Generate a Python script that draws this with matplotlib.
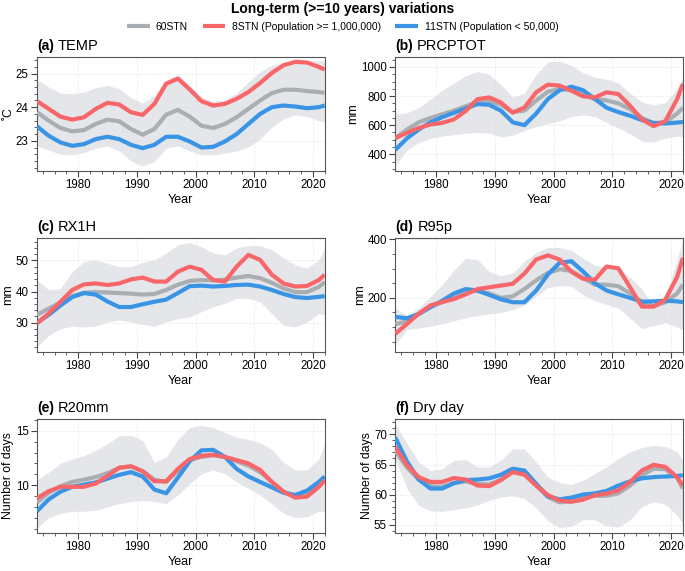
import matplotlib
matplotlib.use("Agg")
import matplotlib.pyplot as plt
from matplotlib.ticker import MultipleLocator

plt.rcParams['font.family'] = ['Liberation Sans', 'DejaVu Sans']

YEARS = [1973, 1975, 1977, 1979, 1981, 1983, 1985, 1987, 1989, 1991, 1993, 1995, 1997,
         1999, 2001, 2003, 2005, 2007, 2009, 2011, 2013, 2015, 2017, 2019, 2021, 2022]

# (a) TEMP
temp_all = [23.85, 23.6, 23.38, 23.28, 23.32, 23.5, 23.63, 23.58, 23.35, 23.18, 23.35, 23.78, 23.92,
            23.72, 23.45, 23.38, 23.5, 23.7, 23.95, 24.2, 24.42, 24.52, 24.52, 24.48, 24.45, 24.43]
temp_big = [24.18, 23.95, 23.72, 23.63, 23.7, 23.95, 24.13, 24.08, 23.85, 23.77, 24.1, 24.7, 24.85,
            24.53, 24.18, 24.05, 24.1, 24.25, 24.45, 24.72, 25.02, 25.25, 25.35, 25.33, 25.2, 25.12]
temp_small = [23.43, 23.15, 22.95, 22.85, 22.9, 23.05, 23.12, 23.05, 22.88, 22.78, 22.88, 23.12, 23.12,
              22.98, 22.8, 22.82, 22.98, 23.2, 23.5, 23.8, 24.0, 24.05, 24.02, 23.97, 24.0, 24.05]
temp_hi = [24.82, 24.6, 24.42, 24.4, 24.45, 24.58, 24.65, 24.55, 24.28, 24.12, 24.35, 24.8, 24.98,
           24.65, 24.3, 24.18, 24.22, 24.42, 24.75, 25.05, 25.25, 25.33, 25.35, 25.38, 25.38, 25.38]
temp_lo = [22.85, 22.72, 22.6, 22.58, 22.65, 22.78, 22.85, 22.7, 22.4, 22.25, 22.38, 22.78, 22.85,
           22.7, 22.58, 22.58, 22.63, 22.7, 22.82, 23.05, 23.4, 23.65, 23.78, 23.72, 23.6, 23.55]

# (b) PRCPTOT
prcp_all = [510, 570, 620, 650, 675, 700, 730, 760, 765, 740, 690, 700, 770,
            830, 850, 840, 810, 780, 770, 750, 710, 650, 615, 620, 680, 720]
prcp_big = [512, 547, 581, 605, 616, 640, 698, 779, 791, 756, 686, 721, 826,
            879, 872, 837, 798, 791, 826, 814, 733, 640, 593, 628, 779, 884]
prcp_small = [430, 510, 570, 620, 655, 685, 715, 745, 740, 700, 620, 600, 680,
              780, 840, 865, 840, 780, 720, 690, 665, 635, 615, 612, 618, 622]
prcp_hi = [675, 685, 720, 780, 840, 890, 940, 970, 950, 880, 790, 820, 950,
           1035, 1040, 1010, 960, 930, 915, 890, 820, 760, 740, 755, 850, 930]
prcp_lo = [325, 430, 480, 510, 525, 535, 545, 550, 545, 520, 530, 565, 590,
           610, 630, 660, 670, 660, 620, 580, 540, 490, 485, 510, 525, 520]

# (c) RX1H
rx1h_all = [32.5, 34.5, 36.5, 38.5, 39.6, 39.8, 39.7, 39.5, 39.3, 39.0, 39.2, 40.5, 42.2,
            43.4, 43.7, 43.6, 43.8, 44.5, 45.0, 44.3, 42.8, 41.0, 39.8, 39.8, 41.5, 43.0]
rx1h_big = [29.7, 32.9, 36.7, 40.5, 42.3, 42.6, 42.1, 42.6, 43.9, 44.5, 43.2, 43.2, 46.4,
            48.0, 47.0, 43.7, 43.2, 48.0, 51.8, 50.2, 45.4, 42.6, 41.6, 41.8, 43.7, 45.4]
rx1h_small = [30.0, 32.5, 35.5, 38.2, 39.5, 39.0, 36.8, 35.0, 35.0, 35.9, 36.7, 37.4, 39.5,
              41.7, 41.9, 41.6, 41.8, 42.1, 42.2, 41.6, 40.5, 39.2, 38.2, 37.9, 38.3, 38.5]
rx1h_hi = [43.7, 40.5, 41.0, 46.4, 49.7, 50.2, 49.1, 48.0, 48.0, 49.4, 50.2, 52.4, 55.1,
           55.8, 54.5, 52.4, 51.8, 54.0, 54.8, 54.8, 53.5, 50.8, 48.6, 47.5, 50.2, 54.0]
rx1h_lo = [22.1, 25.9, 28.0, 28.8, 28.6, 28.8, 30.2, 30.8, 30.2, 29.4, 28.8, 30.2, 31.3,
           31.8, 33.5, 35.1, 36.2, 37.8, 37.8, 36.7, 32.9, 29.1, 28.6, 30.2, 32.9, 32.4]

# (d) R95p
r95_all = [110, 120, 145, 170, 185, 200, 220, 225, 215, 200, 205, 230, 260,
           285, 298, 292, 268, 245, 245, 240, 215, 185, 172, 185, 215, 245]
r95_big = [77, 111, 146, 174, 186, 196, 212, 230, 236, 242, 248, 283, 331,
           345, 331, 289, 265, 262, 307, 301, 236, 170, 170, 194, 271, 337]
r95_small = [135, 130, 145, 168, 190, 215, 230, 225, 210, 195, 185, 185, 225,
             280, 320, 325, 290, 250, 225, 212, 200, 187, 188, 190, 188, 185]
r95_hi = [165, 140, 165, 205, 245, 295, 335, 330, 290, 275, 285, 325, 355,
          372, 372, 362, 335, 312, 302, 298, 270, 230, 170, 200, 330, 400]
r95_lo = [40, 92, 97, 103, 112, 122, 132, 140, 145, 150, 160, 175, 205,
          235, 242, 240, 210, 190, 178, 165, 130, 95, 105, 115, 100, 90]

# (e) R20mm
r20_all = [8.4, 9.3, 9.9, 10.3, 10.5, 10.75, 11.1, 11.6, 11.7, 11.3, 10.5, 10.3, 11.3,
           12.3, 12.6, 12.75, 12.6, 12.2, 11.8, 11.2, 10.3, 9.4, 9.0, 9.1, 9.9, 10.5]
r20_big = [8.8, 9.45, 9.85, 9.85, 9.85, 10.15, 10.85, 11.6, 11.75, 11.27, 10.36, 10.36, 11.5,
           12.4, 12.7, 12.8, 12.6, 12.3, 12.0, 11.4, 10.3, 9.4, 8.85, 8.95, 9.85, 10.45]
r20_small = [7.6, 8.7, 9.4, 9.85, 10.05, 10.25, 10.6, 10.95, 11.2, 10.8, 9.6, 9.25, 10.7,
             12.2, 13.2, 13.25, 12.6, 11.5, 10.8, 10.3, 9.8, 9.3, 9.1, 9.5, 10.3, 10.8]
r20_hi = [10.45, 11.2, 12.0, 12.4, 12.7, 13.2, 13.8, 14.55, 14.6, 14.1, 12.1, 12.6, 14.2,
          15.3, 15.5, 15.3, 14.85, 14.4, 14.2, 13.9, 13.3, 12.1, 11.4, 11.4, 12.4, 13.8]
r20_lo = [6.05, 7.0, 7.4, 7.6, 7.6, 7.7, 8.0, 8.3, 8.5, 8.6, 8.5, 8.3, 9.1,
          10.15, 11.05, 11.4, 11.05, 10.3, 9.7, 9.1, 8.3, 7.4, 7.0, 7.1, 7.6, 7.6]

# (f) Dry day
dry_all = [67.3, 64.5, 62.5, 61.4, 61.3, 61.9, 62.2, 61.8, 61.7, 62.5, 63.8, 63.5, 61.5,
           59.6, 58.7, 58.9, 59.5, 59.8, 59.8, 60.2, 61.5, 63.2, 64.3, 64.2, 62.8, 61.0]
dry_big = [67.9, 64.9, 62.9, 62.1, 62.1, 62.75, 62.5, 61.5, 61.4, 62.4, 63.75, 63.3, 61.5,
           59.9, 59.0, 58.8, 59.15, 59.9, 60.15, 60.7, 62.1, 64.0, 64.95, 64.6, 62.9, 61.5]
dry_small = [69.5, 65.5, 62.5, 61.0, 61.0, 61.9, 62.4, 62.5, 62.7, 63.3, 64.3, 64.0, 61.8,
             59.7, 59.2, 59.5, 60.0, 60.2, 60.6, 61.5, 62.2, 62.7, 62.9, 63.0, 63.1, 63.2]
dry_hi = [71.8, 68.5, 65.4, 64.0, 64.3, 65.7, 65.85, 64.6, 64.6, 65.7, 67.6, 67.6, 65.4,
          62.9, 62.0, 61.65, 62.4, 63.5, 64.6, 66.0, 67.1, 67.8, 68.2, 68.0, 67.1, 65.7]
dry_lo = [66.0, 61.0, 58.2, 57.3, 57.2, 57.5, 57.8, 58.3, 59.0, 59.6, 59.8, 59.3, 57.8,
          55.6, 54.5, 54.7, 55.8, 55.8, 54.8, 54.6, 55.8, 58.0, 58.8, 58.4, 56.5, 55.0]

PANELS = [
    ('(a)', 'TEMP', '˚C', temp_all, temp_big, temp_small, temp_hi, temp_lo, (22.1, 25.5), 1, 0.2),
    ('(b)', 'PRCPTOT', 'mm', prcp_all, prcp_big, prcp_small, prcp_hi, prcp_lo, (285, 1070), 200, 50),
    ('(c)', 'RX1H', 'mm', rx1h_all, rx1h_big, rx1h_small, rx1h_hi, rx1h_lo, (20.5, 57.3), 10, 2),
    ('(d)', 'R95p', 'mm', r95_all, r95_big, r95_small, r95_hi, r95_lo, (15, 405), 200, 50),
    ('(e)', 'R20mm', 'Number of days', r20_all, r20_big, r20_small, r20_hi, r20_lo, (5.6, 16.1), 5, 1),
    ('(f)', 'Dry day', 'Number of days', dry_all, dry_big, dry_small, dry_hi, dry_lo, (53.6, 72.6), 5, 1),
]

LABELS = ['60STN', '8STN (Population >= 1,000,000)', '11STN (Population < 50,000)']
C_GRAY = '#a9aeb3'
C_RED = '#f8666a'
C_BLUE = '#3a94e6'
C_BAND = '#e4e6ea'

fig = plt.figure(figsize=(6.85, 5.71), dpi=100)
lefts = [0.054, 0.577]
bottoms = [0.7005, 0.3835, 0.0665]

handles = None
for i, (tag, name, ylab, s_all, s_big, s_small, hi, lo, ylim, major, minor) in enumerate(PANELS):
    ax = fig.add_axes([lefts[i % 2], bottoms[i // 2], 0.42, 0.2])
    ax.fill_between(YEARS, lo, hi, color=C_BAND, lw=0, zorder=1)
    kw = dict(lw=3, solid_capstyle='butt', solid_joinstyle='round')
    l1, = ax.plot(YEARS, s_all, color=C_GRAY, zorder=3, **kw)
    l3, = ax.plot(YEARS, s_small, color=C_BLUE, zorder=4, **kw)
    l2, = ax.plot(YEARS, s_big, color=C_RED, zorder=5, **kw)
    handles = [l1, l2, l3]
    ax.set_xlim(1973, 2022)
    ax.set_ylim(*ylim)
    ax.xaxis.set_major_locator(MultipleLocator(10))
    ax.xaxis.set_minor_locator(MultipleLocator(2))
    ax.yaxis.set_major_locator(MultipleLocator(major))
    ax.yaxis.set_minor_locator(MultipleLocator(minor))
    ax.grid(True, which='major', color='#dcdcdc', lw=0.6, ls=':', zorder=0)
    ax.tick_params(which='major', length=4, width=0.8, labelsize=8.3, color='#444444', pad=2)
    ax.tick_params(which='minor', length=2, width=0.6, color='#444444')
    for sp in ax.spines.values():
        sp.set_color('#555555')
        sp.set_linewidth(0.8)
    ax.set_xlabel('Year', fontsize=9, labelpad=2)
    ax.set_ylabel(ylab, fontsize=8.8, labelpad=1)
    t = ax.text(0, 1.035, tag, transform=ax.transAxes, fontsize=10, fontweight='bold',
                ha='left', va='bottom')
    ax.annotate(name, xy=(1, 0), xycoords=t, xytext=(3, 0), textcoords='offset points',
                fontsize=10.5, ha='left', va='bottom')

fig.text(0.5, 0.997, 'Long-term (>=10 years) variations', ha='center', va='top',
         fontsize=10, fontweight='bold')
fig.legend(handles, LABELS, loc='center', bbox_to_anchor=(0.5, 0.953), ncol=3, frameon=False,
           fontsize=7.5, handlelength=2.2, handletextpad=0.6, columnspacing=1.4)

fig.savefig('out.png', dpi=100)
